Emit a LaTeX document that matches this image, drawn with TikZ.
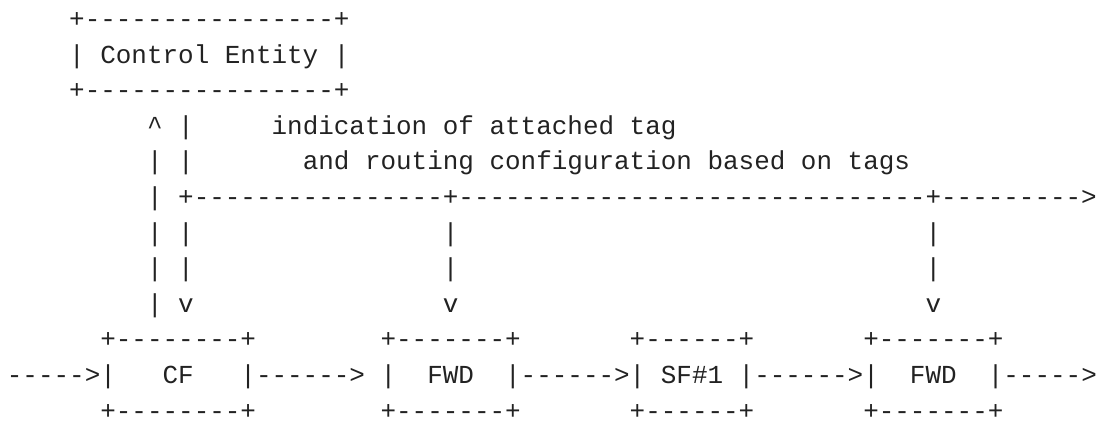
\documentclass[tikz,border=0pt]{standalone}
\usepackage{fontspec}
\setmonofont{Liberation Mono}
\definecolor{ink}{RGB}{34,34,34}
% character grid: column width 7.785pt, line pitch 17.8pt
\newcommand{\glyphs}[4]{%
  \node[ascii] (#1) at ({3.46pt+#2*7.785pt},{-13.75pt-(#3-1)*17.8pt}) {#4};}
\tikzset{
  ascii/.style={font=\ttfamily\fontsize{12.975pt}{17.8pt}\selectfont,
    text=ink, inner sep=0pt, outer sep=0pt, anchor=base west}
}
\begin{document}
\begin{tikzpicture}
\useasboundingbox (0,0) rectangle (550pt,-211pt);
% control entity box
\glyphs{ceTop}{4}{1}{+----------------+}
\glyphs{ce}{4}{2}{| Control Entity |}
\glyphs{ceBot}{4}{3}{+----------------+}
% control channel and its labels
\glyphs{ctlA}{9}{4}{\textasciicircum{} |}
\glyphs{lblA}{17}{4}{indication of attached tag}
\glyphs{ctlB}{9}{5}{| |}
\glyphs{lblB}{19}{5}{and routing configuration based on tags}
\glyphs{bus}{9}{6}{| +----------------+------------------------------+--------->}
\glyphs{ctlC}{9}{7}{| |}
\glyphs{dropA1}{28}{7}{|}
\glyphs{dropB1}{59}{7}{|}
\glyphs{ctlD}{9}{8}{| |}
\glyphs{dropA2}{28}{8}{|}
\glyphs{dropB2}{59}{8}{|}
\glyphs{ctlE}{9}{9}{| v}
\glyphs{dropA3}{28}{9}{v}
\glyphs{dropB3}{59}{9}{v}
% data path boxes
\glyphs{cfTop}{6}{10}{+--------+}
\glyphs{fwdATop}{24}{10}{+-------+}
\glyphs{sfTop}{40}{10}{+------+}
\glyphs{fwdBTop}{55}{10}{+-------+}
\glyphs{pathIn}{0}{11}{----->|}
\glyphs{cf}{10}{11}{CF}
\glyphs{pathA}{15}{11}{|------> |}
\glyphs{fwdA}{27}{11}{FWD}
\glyphs{pathB}{32}{11}{|------>| SF\#1 |------>|}
\glyphs{fwdB}{58}{11}{FWD}
\glyphs{pathOut}{63}{11}{|----->}
\glyphs{cfBot}{6}{12}{+--------+}
\glyphs{fwdABot}{24}{12}{+-------+}
\glyphs{sfBot}{40}{12}{+------+}
\glyphs{fwdBBot}{55}{12}{+-------+}
\end{tikzpicture}
\end{document}
